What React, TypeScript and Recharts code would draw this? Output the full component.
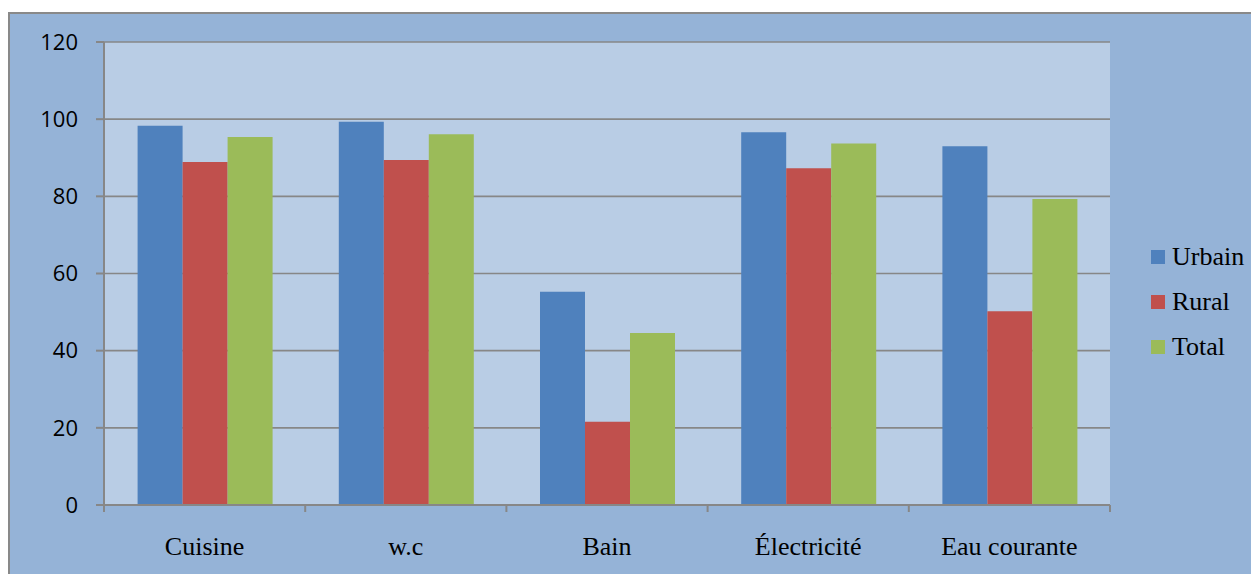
import { BarChart, Bar, XAxis, YAxis, CartesianGrid, Legend } from "recharts";

const categories = ["Cuisine", "w.c", "Bain", "Électricité", "Eau courante"];
const urbain = [98.3, 99.3, 55.3, 96.6, 93.0];
const rural = [88.9, 89.4, 21.6, 87.3, 50.2];
const total = [95.4, 96.1, 44.6, 93.7, 79.3];
const yTicks = [0, 20, 40, 60, 80, 100, 120];

const seriesNames = ["Urbain", "Rural", "Total"];
const seriesColors = ["#4F81BD", "#C0504D", "#9BBB59"];

const data = categories.map((name, i) => ({
  name,
  Urbain: urbain[i],
  Rural: rural[i],
  Total: total[i],
}));

const GRID = "#878787";

function CategoryTick(props: any) {
  const { x, y, payload, index } = props;
  const half = payload?.offset ?? 100.6;
  return (
    <g>
      <line x1={x - half} y1={y - 7} x2={x - half} y2={y} stroke={GRID} strokeWidth={2} />
      {index === categories.length - 1 && (
        <line x1={x + half} y1={y - 7} x2={x + half} y2={y} stroke={GRID} strokeWidth={2} />
      )}
      <text
        x={x}
        y={y + 43}
        textAnchor="middle"
        fontFamily="'Liberation Serif', 'Times New Roman', serif"
        fontSize={26}
        fill="#000"
      >
        {payload.value}
      </text>
    </g>
  );
}

function LegendBox() {
  return (
    <div style={{ fontFamily: "'Liberation Serif', 'Times New Roman', serif", fontSize: 26, color: "#000" }}>
      {seriesNames.map((s, i) => (
        <div key={s} style={{ display: "flex", alignItems: "center", height: 45 }}>
          <span style={{ width: 14, height: 14, background: seriesColors[i], marginRight: 7, display: "inline-block" }} />
          <span>{s}</span>
        </div>
      ))}
    </div>
  );
}

export default function App() {
  return (
    <div
      style={{
        position: "relative",
        top: 4,
        width: 1251,
        height: 564,
        borderTop: "2px solid #898989",
        borderLeft: "2px solid #898989",
        background: "#95B3D7",
        overflow: "hidden",
      }}
    >
      <BarChart
        width={1249}
        height={562}
        data={data}
        margin={{ top: 28, right: 149, left: 34, bottom: 31 }}
        barCategoryGap="16.7%"
        barGap={0}
      >
        <CartesianGrid vertical={false} fill="#B9CDE5" stroke={GRID} strokeWidth={1.6} />
        <XAxis
          dataKey="name"
          height={40}
          tickSize={7}
          tickMargin={0}
          tickLine={false}
          axisLine={{ stroke: GRID, strokeWidth: 2 }}
          tick={<CategoryTick />}
          interval={0}
        />
        <YAxis
          width={60}
          domain={[0, 120]}
          ticks={yTicks}
          interval={0}
          tickSize={8}
          tickMargin={18}
          axisLine={{ stroke: GRID, strokeWidth: 2 }}
          tickLine={{ stroke: GRID, strokeWidth: 2 }}
          tick={{ fill: "#000", fontSize: 22, fontFamily: "'Open Sans', sans-serif" }}
        />
        <Legend
          layout="horizontal"
          verticalAlign="middle"
          align="center"
          content={<LegendBox />}
          wrapperStyle={{ position: "absolute", left: 1141, top: 220, width: 110 }}
        />
        {seriesNames.map((s, i) => (
          <Bar key={s} dataKey={s} fill={seriesColors[i]} isAnimationActive={false} />
        ))}
      </BarChart>
    </div>
  );
}
